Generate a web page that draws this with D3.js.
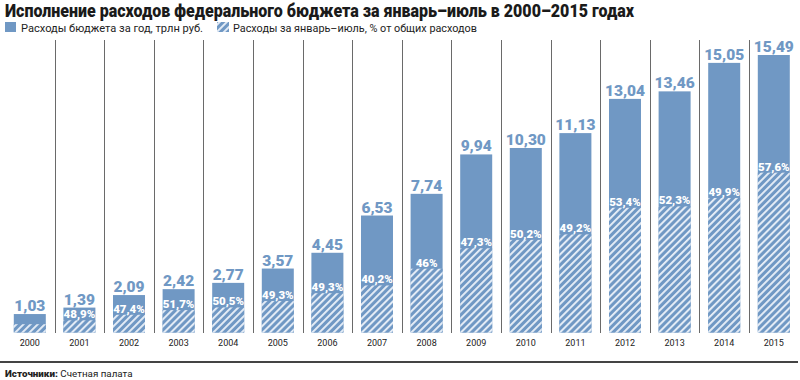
<!DOCTYPE html>
<html>
<head>
<meta charset="utf-8">
<script src="https://cdn.jsdelivr.net/npm/d3@7"></script>
<style>
  html, body { margin: 0; padding: 0; background: #fff; }
  svg { display: block; }
  text { font-family: Roboto, "Noto Sans", "DejaVu Sans", sans-serif; }
</style>
</head>
<body>
<svg id="chart" width="800" height="380"></svg>
<script>
const years = ["2000","2001","2002","2003","2004","2005","2006","2007","2008","2009","2010","2011","2012","2013","2014","2015"];
const totalSpending = [1.03, 1.39, 2.09, 2.42, 2.77, 3.57, 4.45, 6.53, 7.74, 9.94, 10.30, 11.13, 13.04, 13.46, 15.05, 15.49];
const janJulShare = [45, 48.9, 47.4, 51.7, 50.5, 49.3, 49.3, 40.2, 46, 47.3, 50.2, 49.2, 53.4, 52.3, 49.9, 57.6];
const shareLabels = ["", "48,9%", "47,4%", "51,7%", "50,5%", "49,3%", "49,3%", "40,2%", "46%", "47,3%", "50,2%", "49,2%", "53,4%", "52,3%", "49,9%", "57,6%"];

const titleText = "Исполнение расходов федерального бюджета за январь–июль в 2000–2015 годах";
const legendText1 = "Расходы бюджета за год, трлн руб.";
const legendText2 = "Расходы за январь–июль, % от общих расходов";

const blue = "#7098c4";
const svg = d3.select("#chart");

// hatch pattern
const defs = svg.append("defs");
const pat = defs.append("pattern")
  .attr("id", "hatch")
  .attr("patternUnits", "userSpaceOnUse")
  .attr("width", 5).attr("height", 5)
  .attr("patternTransform", "rotate(45)");
pat.append("rect").attr("width", 5).attr("height", 5).attr("fill", blue);
pat.append("rect").attr("x", 0).attr("width", 1.9).attr("height", 5).attr("fill", "#e8eff8");

// title
svg.append("text")
  .attr("x", 5).attr("y", 17)
  .attr("font-size", 18).attr("font-weight", 900)
  .attr("fill", "#1a1a1a")
  .attr("textLength", 629).attr("lengthAdjust", "spacingAndGlyphs")
  .text(titleText);

// legend
svg.append("rect").attr("x", 5).attr("y", 22).attr("width", 11).attr("height", 10).attr("fill", blue);
svg.append("text").attr("x", 21).attr("y", 31.5).attr("font-size", 11).attr("fill", "#222")
  .attr("textLength", 182).attr("lengthAdjust", "spacingAndGlyphs").text(legendText1);
svg.append("rect").attr("x", 217).attr("y", 22).attr("width", 12).attr("height", 10).attr("fill", "url(#hatch)");
svg.append("text").attr("x", 233).attr("y", 31.5).attr("font-size", 11).attr("fill", "#222")
  .attr("textLength", 244).attr("lengthAdjust", "spacingAndGlyphs").text(legendText2);

// scales
const x = d3.scaleBand().domain(years).range([5, 798.6]).paddingInner(0).paddingOuter(0);
const y = d3.scaleLinear().domain([0, 15.49]).range([332.5, 55]);
const barW = 32;

// dividers
svg.append("g").selectAll("line")
  .data(years.slice(1))
  .join("line")
  .attr("x1", d => Math.round(x(d)) + 0.5).attr("x2", d => Math.round(x(d)) + 0.5)
  .attr("y1", 40).attr("y2", 333)
  .attr("stroke", "#6a6a6a").attr("stroke-width", 1);

const data = years.map((yr, i) => ({ yr, total: totalSpending[i], share: janJulShare[i], label: shareLabels[i] }));
const cx = d => x(d.yr) + x.bandwidth() / 2;

const g = svg.append("g");
// full bars
g.selectAll("rect.total").data(data).join("rect")
  .attr("class", "total")
  .attr("x", d => cx(d) - barW / 2).attr("width", barW)
  .attr("y", d => y(d.total)).attr("height", d => y(0) - y(d.total))
  .attr("fill", blue);
// hatched part
g.selectAll("rect.share").data(data).join("rect")
  .attr("class", "share")
  .attr("x", d => cx(d) - barW / 2).attr("width", barW)
  .attr("y", d => y(d.total * d.share / 100)).attr("height", d => y(0) - y(d.total * d.share / 100))
  .attr("fill", "url(#hatch)");

// value labels
g.selectAll("text.val").data(data).join("text")
  .attr("class", "val")
  .attr("x", cx).attr("y", d => y(d.total) - 3)
  .attr("text-anchor", "middle")
  .attr("font-size", 15.5).attr("font-weight", 900)
  .attr("fill", blue)
  .text(d => d3.format(".2f")(d.total).replace(".", ","));

// share labels
g.selectAll("text.pct").data(data.filter(d => d.label)).join("text")
  .attr("class", "pct")
  .attr("x", cx).attr("y", d => y(d.total * d.share / 100) - 2)
  .attr("text-anchor", "middle")
  .attr("font-size", 11.5).attr("font-weight", 900)
  .attr("fill", "#ffffff")
  .text(d => d.label);

// x axis labels
const xAxis = d3.axisBottom(x).tickSize(0).tickPadding(0);
const ax = svg.append("g").attr("transform", "translate(0,340)").call(xAxis);
ax.select(".domain").remove();
ax.selectAll("text").attr("font-size", 9).attr("fill", "#222").attr("dy", "0.71em")
  .attr("font-family", "Roboto, 'Noto Sans', sans-serif");

// bottom rule
svg.append("line").attr("x1", 0).attr("x2", 798).attr("y1", 362).attr("y2", 362)
  .attr("stroke", "#444").attr("stroke-width", 2);

// source
const src = svg.append("text").attr("x", 5).attr("y", 377).attr("font-size", 9.8).attr("fill", "#222");
src.append("tspan").attr("font-weight", 900).text("Источники: ");
src.append("tspan").attr("font-weight", 400).text("Счетная палата");
</script>
</body>
</html>
